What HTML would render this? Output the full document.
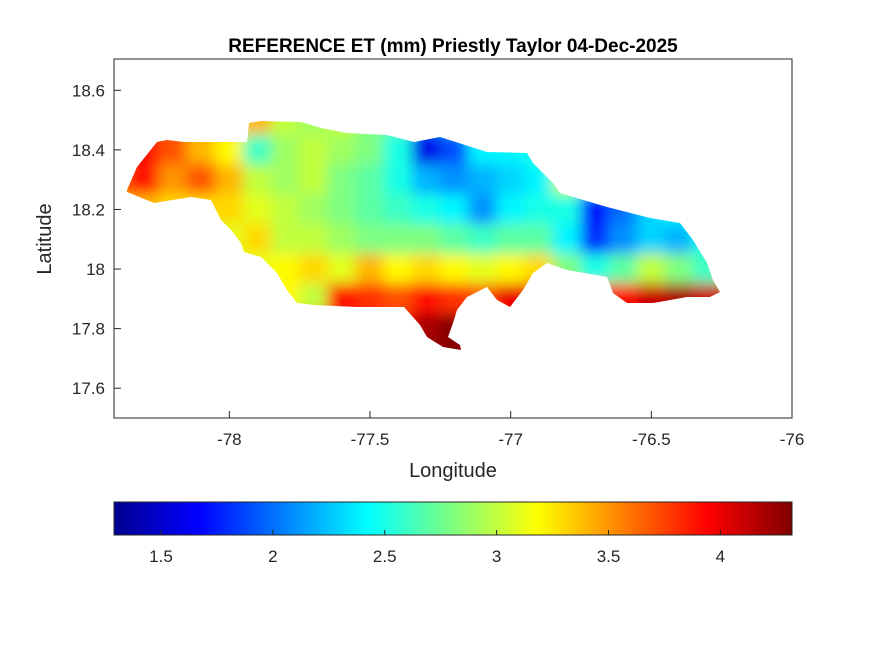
<!DOCTYPE html>
<html><head><meta charset="utf-8">
<style>
html,body{margin:0;padding:0;background:#fff;}
svg{display:block;font-family:"Liberation Sans",Arial,sans-serif;}
</style></head>
<body>
<svg id="chart" width="875" height="656" viewBox="0 0 875 656">
<defs>
<filter id="blur" filterUnits="userSpaceOnUse" x="80" y="80" width="700" height="320"><feGaussianBlur stdDeviation="7"/></filter>
<clipPath id="island"><polygon id="island-poly" points=""/></clipPath>
<linearGradient id="jet" x1="0" x2="1" y1="0" y2="0">
<stop offset="0" stop-color="#00008f"/><stop offset="0.125" stop-color="#0000ff"/>
<stop offset="0.375" stop-color="#00ffff"/><stop offset="0.625" stop-color="#ffff00"/>
<stop offset="0.875" stop-color="#ff0000"/><stop offset="1" stop-color="#800000"/>
</linearGradient>
</defs>
<rect x="0" y="0" width="875" height="656" fill="#fff"/>
<text x="453" y="52" text-anchor="middle" font-size="19" font-weight="bold">REFERENCE ET (mm) Priestly Taylor 04-Dec-2025</text>
<g clip-path="url(#island)"><g id="cells" filter="url(#blur)"></g></g>
<rect x="114" y="59" width="678" height="359" fill="none" stroke="#262626" stroke-width="1"/>
<g id="xticks"></g>
<g id="yticks"></g>
<text x="453" y="477" text-anchor="middle" font-size="20" fill="#262626">Longitude</text>
<text transform="translate(51,239) rotate(-90)" text-anchor="middle" font-size="20" fill="#262626">Latitude</text>
<rect x="114" y="502" width="678" height="33" fill="url(#jet)" stroke="#262626" stroke-width="1"/>
<g id="cticks"></g>
</svg>
<script>
const lonCenters = [-78.4,-78.3,-78.2,-78.1,-78.0,-77.9,-77.8,-77.7,-77.6,-77.5,-77.4,-77.3,-77.2,-77.1,-77.0,-76.9,-76.8,-76.7,-76.6,-76.5,-76.4,-76.3,-76.2];
const latCenters = [18.5,18.4,18.3,18.2,18.1,18.0,17.9,17.8,17.7];
const etValues = [
[3.8,3.8,3.7,3.4,3.3,3.4,3.0,2.9,3.0,2.8,2.7,2.0,2.2,2.4,2.5,2.5,2.5,2.6,2.6,2.6,2.6,2.6,2.6],
[3.8,3.9,3.7,3.4,3.2,2.6,2.9,3.0,2.9,2.8,2.5,1.6,1.9,2.4,2.4,2.5,3.0,3.0,2.8,2.8,2.8,2.8,2.8],
[3.7,3.9,3.5,3.7,3.4,3.0,2.9,3.0,2.8,2.7,2.5,2.2,2.1,2.2,2.3,2.4,3.0,2.4,2.4,2.4,2.5,2.6,2.6],
[3.4,3.4,3.3,3.3,3.3,3.1,3.0,2.9,2.8,2.7,2.6,2.5,2.4,2.1,2.4,2.5,2.5,1.7,2.0,2.3,2.4,2.7,2.7],
[3.3,3.3,3.3,3.3,3.1,3.3,3.0,3.0,2.9,2.8,2.8,2.8,2.7,2.6,2.7,2.7,2.4,1.8,2.1,2.3,2.2,2.5,2.6],
[3.2,3.2,3.2,3.2,3.1,3.1,3.2,3.3,3.1,3.4,3.2,3.3,3.2,3.1,3.2,3.3,2.8,2.5,2.7,3.0,2.8,2.6,3.1],
[3.2,3.2,3.2,3.2,3.2,3.2,3.2,3.0,3.9,3.8,3.7,3.9,3.8,3.7,4.0,4.0,3.9,3.8,3.9,4.1,4.2,4.1,4.1],
[4.0,4.0,4.0,4.0,4.0,4.0,4.0,4.0,4.0,4.0,3.9,4.2,4.3,4.0,4.0,4.0,4.0,4.0,4.0,4.0,4.0,4.0,4.0],
[4.3,4.3,4.3,4.3,4.3,4.3,4.3,4.3,4.3,4.3,4.3,4.3,4.3,4.3,4.3,4.3,4.3,4.3,4.3,4.3,4.3,4.3,4.3]
];
const xTickValues = [-78,-77.5,-77,-76.5,-76];
const xTickLabels = ["-78","-77.5","-77","-76.5","-76"];
const yTickValues = [17.6,17.8,18,18.2,18.4,18.6];
const yTickLabels = ["17.6","17.8","18","18.2","18.4","18.6"];
const cTickValues = [1.5,2,2.5,3,3.5,4];
const cTickLabels = ["1.5","2","2.5","3","3.5","4"];
const cMin = 1.29, cMax = 4.32;

const X0=114,X1=792,Y0=59,Y1=418;
const lonMin=-78.41,lonMax=-76.0,latMin=17.5,latMax=18.705;
const xScale = v => X0 + (v-lonMin)/(lonMax-lonMin)*(X1-X0);
const yScale = v => Y1 - (v-latMin)/(latMax-latMin)*(Y1-Y0);
const cScale = v => 114 + (v-cMin)/(cMax-cMin)*678;
const NS="http://www.w3.org/2000/svg";

function jet(v){
  let t=(v-cMin)/(cMax-cMin); t=Math.max(0,Math.min(1,t));
  const c=x=>Math.max(0,Math.min(1,x));
  const r=c(1.5-Math.abs(4*t-3)), g=c(1.5-Math.abs(4*t-2)), b=c(1.5-Math.abs(4*t-1));
  return `rgb(${Math.round(r*255)},${Math.round(g*255)},${Math.round(b*255)})`;
}

const outline=[[127,190],[137,167],[157,142],[167,140],[184,142],[211,142],[247,142],[249,123],[261,121],[301,122],[321,128],[347,133],[387,135],[414,142],[440,137],[487,152],[527,153],[533,163],[553,183],[560,193],[607,207],[650,218],[680,223],[693,240],[707,263],[713,280],[720,292],[710,297],[687,297],[653,303],[627,303],[613,293],[607,277],[567,270],[547,263],[533,273],[523,290],[510,307],[497,300],[487,287],[467,297],[457,310],[453,323],[448,337],[460,345],[461,350],[443,347],[427,337],[420,325],[404,307],[357,307],[314,305],[297,303],[287,290],[277,273],[261,257],[244,252],[241,243],[231,230],[221,220],[211,200],[191,197],[154,203],[127,192]];
document.getElementById('island-poly').setAttribute('points', outline.map(p=>p.join(',')).join(' '));

const cells=document.getElementById('cells');
const dLon=0.1, dLat=0.1;
latCenters.forEach((lat,i)=>{
  lonCenters.forEach((lon,j)=>{
    const v=etValues[i][j];
    const x0=xScale(lon-dLon/2), x1=xScale(lon+dLon/2);
    const y0=yScale(lat+dLat/2), y1=yScale(lat-dLat/2);
    const r=document.createElementNS(NS,'rect');
    r.setAttribute('x',x0-0.5); r.setAttribute('y',y0-0.5);
    r.setAttribute('width',x1-x0+1); r.setAttribute('height',y1-y0+1);
    r.setAttribute('fill',jet(v));
    
    
    cells.appendChild(r);
  });
});

function mk(tag,attrs,parent,text){
  const e=document.createElementNS(NS,tag);
  for(const k in attrs) e.setAttribute(k,attrs[k]);
  if(text!==undefined) e.textContent=text;
  parent.appendChild(e); return e;
}
const gx=document.getElementById('xticks');
xTickValues.forEach((v,i)=>{
  const x=xScale(v);
  const t=mk('line',{x1:x,x2:x,y1:Y1,y2:Y1-7,stroke:'#262626'},gx);
  
  
  const l=mk('text',{x:x,y:445,'text-anchor':'middle','font-size':17,fill:'#262626'},gx,xTickLabels[i]);
  
  
});
const gy=document.getElementById('yticks');
yTickValues.forEach((v,i)=>{
  const y=yScale(v);
  const t=mk('line',{x1:X0,x2:X0+7,y1:y,y2:y,stroke:'#262626'},gy);
  
  
  const l=mk('text',{x:105,y:y+6,'text-anchor':'end','font-size':17,fill:'#262626'},gy,yTickLabels[i]);
  
  
});
const gc=document.getElementById('cticks');
cTickValues.forEach((v,i)=>{
  const x=cScale(v);
  const t=mk('line',{x1:x,x2:x,y1:535,y2:530,stroke:'#262626'},gc);
  
  
  const l=mk('text',{x:x,y:562,'text-anchor':'middle','font-size':17,fill:'#262626'},gc,cTickLabels[i]);
  
  
});
</script>
</body></html>
